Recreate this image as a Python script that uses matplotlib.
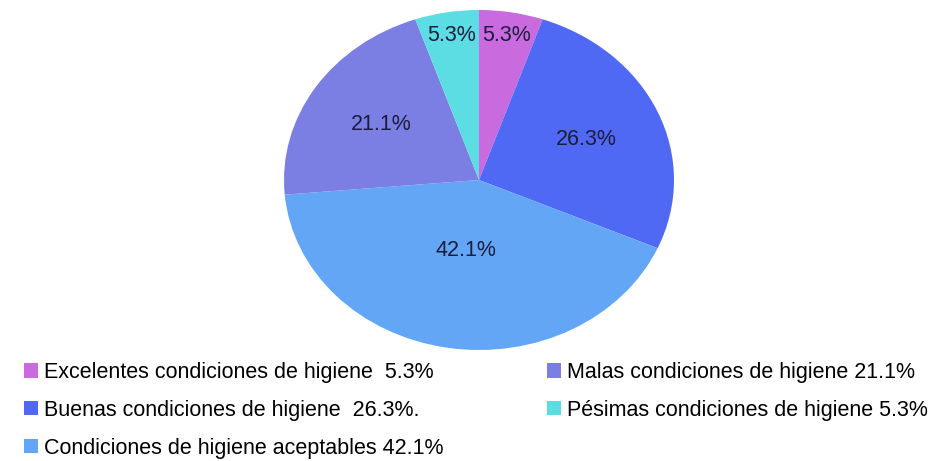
import matplotlib
matplotlib.use("Agg")
import matplotlib.pyplot as plt
from matplotlib.patches import Patch
import numpy as np

plt.rcParams['font.family'] = ['Liberation Sans', 'DejaVu Sans']

labels = ['Excelentes condiciones de higiene  5.3%',
          'Buenas condiciones de higiene  26.3%.',
          'Condiciones de higiene aceptables 42.1%',
          'Malas condiciones de higiene 21.1%',
          'Pésimas condiciones de higiene 5.3%']
values = [5.3, 26.3, 42.1, 21.1, 5.3]
colors = ['#C96BDF', '#5069F4', '#64A6F6', '#7B7EE2', '#5BDDE3']
pct_dist = [0.86, 0.6, 0.42, 0.6, 0.86]

fig = plt.figure(figsize=(9.5, 4.61), dpi=100)
ax = fig.add_axes([284/950, 1-350/461, 390/950, 340/461])

wedges, _ = ax.pie(values, colors=colors, startangle=90, counterclock=False,
                   radius=1, wedgeprops=dict(linewidth=0))
ax.set_aspect('auto')
ax.set_xlim(-1, 1)
ax.set_ylim(-1, 1)
ax.axis('off')

for w, v, d in zip(wedges, values, pct_dist):
    ang = np.deg2rad((w.theta1 + w.theta2) / 2)
    ax.text(d*np.cos(ang), d*np.sin(ang), f'{v:.1f}%', ha='center', va='center',
            fontsize=15.5, color='#1c1c3c')

handles = [Patch(facecolor=c, edgecolor='none') for c in colors]
kw = dict(frameon=False, fontsize=15.5, handlelength=0.65, handleheight=0.65,
          handletextpad=0.3, labelspacing=0.78, borderpad=0, borderaxespad=0,
          loc='upper left')
fig.legend(handles[:3], labels[:3], bbox_to_anchor=(24/950, 1-362/461), **kw)
fig.legend(handles[3:], labels[3:], bbox_to_anchor=(547/950, 1-362/461), **kw)

fig.savefig('out.png', dpi=100, facecolor='white')
